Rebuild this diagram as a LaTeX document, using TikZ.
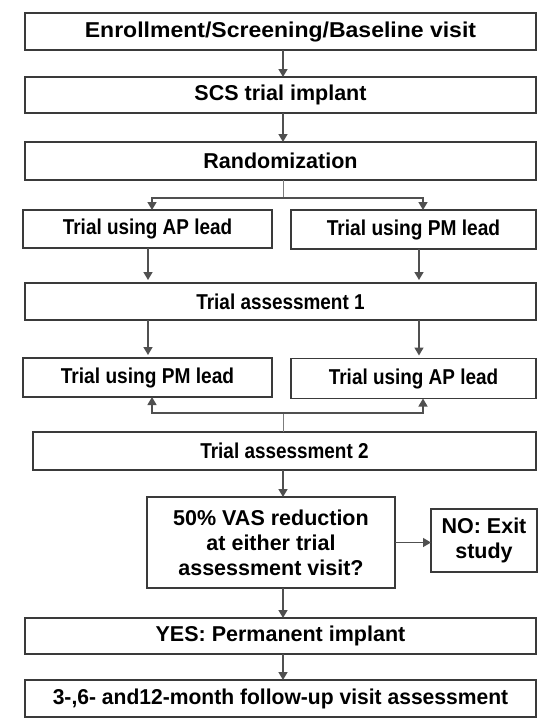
\documentclass[tikz,border=0pt]{standalone}
\usepackage{fontspec}
\setmainfont{Liberation Sans}
\usepackage{graphicx}
\usetikzlibrary{arrows.meta}
\definecolor{boxgray}{HTML}{3A3A3A}
\definecolor{linegray}{HTML}{505050}
% horizontal squeeze/stretch of a label
\newcommand{\nx}[2]{\scalebox{#1}[1]{#2}}

\begin{document}
\begin{tikzpicture}[x=1pt,y=-1pt,
  box/.style={draw=boxgray, line width=1.5pt, fill=white, inner sep=0pt, outer sep=0pt,
    align=center, font=\fontsize{21.5}{25}\selectfont\bfseries},
  wbox/.style={box, minimum width=511pt},
  lbox/.style={box, minimum width=249pt},
  rbox/.style={box, minimum width=245pt},
  arr/.style={draw=linegray, line width=1.4pt, -{Triangle[width=9pt,length=8pt]}},
  stem/.style={draw=linegray!75, line width=0.8pt}]

\useasboundingbox (0,0) rectangle (539,721);

% column guides for the connectors
\coordinate (cx) at (283,0);
\coordinate (lx) at (152,0);
\coordinate (rx) at (423,0);
\coordinate (lx2) at (148,0);
\coordinate (rx2) at (419,0);
\coordinate (s1) at (283,198);
\coordinate (s2) at (283,413);

% boxes
\node[wbox, minimum height=37pt] (b1) at (280.5,31.5) {\nx{1.07}{Enrollment/Screening/Baseline visit}};
\node[wbox, minimum height=36pt] (b2) at (280.5,95) {SCS trial implant};
\node[wbox, minimum height=38pt] (b3) at (280.5,161) {Randomization};
\node[lbox, minimum height=38pt] (apA) at (147.5,229) {\nx{0.88}{Trial using AP lead}};
\node[rbox, minimum height=39pt] (pmA) at (413.5,229.5) {\nx{0.89}{Trial using PM lead}};
\node[wbox, minimum height=37pt] (ta1) at (280.5,301.5) {\nx{0.88}{Trial assessment 1}};
\node[lbox, minimum height=39pt] (pmB) at (147.5,377.5) {\nx{0.89}{Trial using PM lead}};
\node[rbox, minimum height=40pt] (apB) at (413.5,378.5) {\nx{0.88}{Trial using AP lead}};
\node[box, minimum width=503pt, minimum height=38pt] (ta2) at (284.5,451) {\nx{0.88}{Trial assessment 2}};
\node[box, minimum width=248pt, minimum height=91pt] (dec) at (271,542.5)
  {50\% VAS reduction\\at either trial\\assessment visit?};
\node[box, minimum width=106pt, minimum height=63pt] (no) at (484,540.5) {NO: Exit\\study};
\node[wbox, minimum height=36pt] (yes) at (280.5,636) {YES: Permanent implant};
\node[wbox, minimum height=37pt] (fin) at (280.5,698.5) {\nx{0.98}{3-,6- and12-month follow-up visit assessment}};

% main column
\draw[arr] (b1.south -| cx) -- (b2.north -| cx);
\draw[arr] (b2.south -| cx) -- (b3.north -| cx);

% randomization split
\draw[stem] (b3.south -| cx) -- (s1);
\draw[arr] (s1) -| (apA.north -| lx);
\draw[arr] (s1) -| (pmA.north -| rx);

% first period to assessment 1
\draw[arr, shorten >=3pt] (apA.south -| lx2) -- (ta1.north -| lx2);
\draw[arr, shorten >=3pt] (pmA.south -| rx2) -- (ta1.north -| rx2);

% crossover to second period
\draw[arr, shorten >=3pt] (ta1.south -| lx2) -- (pmB.north -| lx2);
\draw[arr, shorten >=3pt] (ta1.south -| rx2) -- (apB.north -| rx2);

% assessment 2 links back to both second-period boxes
\draw[stem] (ta2.north -| cx) -- (s2);
\draw[arr] (s2) -| (pmB.south -| lx);
\draw[arr] (s2) -| (apB.south -| rx);

% decision
\draw[arr] (ta2.south -| cx) -- (dec.north -| cx);
\draw[arr] (dec.east) -- (no.west |- dec.east);
\draw[arr] (dec.south -| cx) -- (yes.north -| cx);
\draw[arr] (yes.south -| cx) -- (fin.north -| cx);

\end{tikzpicture}
\end{document}
